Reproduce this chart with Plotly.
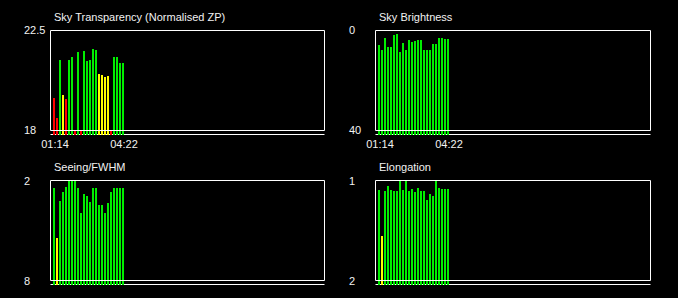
import plotly.graph_objects as go

# ---------------- data ----------------
times = ["01:14", "01:22", "01:30", "01:39", "01:47", "01:55", "02:03", "02:12",
         "02:20", "02:28", "02:36", "02:44", "02:53", "03:01", "03:09", "03:17",
         "03:26", "03:34", "03:42", "03:50", "03:58", "04:06", "04:14", "04:22"]

transparency = [19.46, 18.56, 21.17, 19.60, 19.42, 21.17, 21.31, 18.0,
                21.53, 18.0, 21.58, 21.13, 21.17, 21.67, 21.62, 20.54,
                20.50, 20.41, 20.45, 18.0, 21.31, 21.31, 21.04, 21.04]
transparency_colors = ["r", "r", "g", "y", "r", "g", "g", "r",
                       "g", "r", "g", "g", "g", "g", "g", "y",
                       "y", "y", "y", "r", "g", "g", "g", "g"]

sky_brightness = [5.8, 7.8, 3.0, 6.6, 6.6, 1.8, 1.4, 8.6,
                  5.0, 7.8, 3.8, 4.6, 4.2, 3.8, 3.8, 7.8,
                  7.8, 7.8, 5.4, 5.4, 3.0, 3.0, 3.4, 3.4]
sky_brightness_colors = ["g"] * 24

seeing = [2.45, 5.45, 3.23, 2.69, 2.39, 1.97, 1.97, 1.97,
          2.45, 3.95, 2.81, 2.93, 3.29, 2.45, 2.45, 3.47,
          3.47, 3.95, 3.35, 2.69, 2.45, 2.45, 2.45, 2.45]
seeing_colors = ["g", "y"] + ["g"] * 22

elongation = [1.09, 1.55, 1.10, 1.05, 1.09, 1.10, 1.10, 1.0,
              1.09, 1.0, 1.10, 1.08, 1.11, 1.07, 1.10, 1.10,
              1.19, 1.13, 1.15, 1.0, 1.07, 1.08, 1.08, 1.08]
elongation_colors = ["g", "y"] + ["g"] * 22

titles = ["Sky Transparency (Normalised ZP)", "Sky Brightness", "Seeing/FWHM", "Elongation"]
y_top_labels = ["22.5", "0", "2", "1"]
y_bottom_labels = ["18", "40", "8", "2"]
y_top_values = [22.5, 0, 2, 1]
y_bottom_values = [18, 40, 8, 2]

# ---------------- styling / geometry ----------------
W, H = 678, 298
COLORS = {"g": "#00ee00", "y": "#ffff00", "r": "#ff0000"}
FONT = "Liberation Sans, Arial, sans-serif"
TXT = "#f2f2f2"

geom = [
    dict(box=(50.5, 324.5, 30.5, 130.5), base=134.5, label_x=22, title_y=17),
    dict(box=(375.5, 650.5, 30.5, 130.5), base=134.5, label_x=347, title_y=17),
    dict(box=(50.5, 324.5, 180.5, 280.5), base=284.5, label_x=22, title_y=167),
    dict(box=(375.5, 650.5, 180.5, 280.5), base=284.5, label_x=347, title_y=167),
]
series = [transparency, sky_brightness, seeing, elongation]
series_colors = [transparency_colors, sky_brightness_colors, seeing_colors, elongation_colors]

fig = go.Figure()
shapes = []
annotations = []
layout_axes = {}

for i in range(4):
    g = geom[i]
    bl, br, bt, bb = g["box"]
    vt, vb = y_top_values[i], y_bottom_values[i]

    def val(p, bt=bt, bb=bb, vt=vt, vb=vb):
        return vt + (p - bt) * (vb - vt) / (bb - bt)

    area_l, area_r = bl - 1.5, br + 1.5
    area_t, area_b = bt - 2.5, g["base"] + 1.5
    c0 = bl + 3.5
    step = 3.0

    base_val = val(g["base"] + 0.5)
    xa = "x" if i == 0 else f"x{i+1}"
    ya = "y" if i == 0 else f"y{i+1}"

    fig.add_trace(go.Bar(
        x=times,
        y=[v - base_val for v in series[i]],
        base=base_val,
        width=2 / 3,
        marker=dict(color=[COLORS[c] for c in series_colors[i]], line=dict(width=0)),
        xaxis=xa, yaxis=ya, showlegend=False, hoverinfo="skip",
    ))

    xkey = "xaxis" if i == 0 else f"xaxis{i+1}"
    ykey = "yaxis" if i == 0 else f"yaxis{i+1}"
    layout_axes[xkey] = dict(
        domain=[area_l / W, area_r / W],
        anchor=ya, type="category", automargin=False,
        range=[(area_l - c0) / step, (area_r - c0) / step],
        showgrid=False, zeroline=False, showline=False, ticks="",
        tickvals=[times[0], times[-1]] if i < 2 else [],
        ticktext=[times[0], times[-1]] if i < 2 else [],
        showticklabels=(i < 2),
        ticklabelshift=1,
        tickfont=dict(family=FONT, size=11, color=TXT),
        fixedrange=True,
    )
    layout_axes[ykey] = dict(
        domain=[1 - area_b / H, 1 - area_t / H],
        anchor=xa, automargin=False,
        range=[val(area_b), val(area_t)],
        showgrid=False, zeroline=False, showline=False, ticks="",
        showticklabels=False, fixedrange=True,
    )

    # frame box
    shapes.append(dict(type="rect", xref="paper", yref="paper",
                       x0=bl / W, x1=br / W, y0=1 - bb / H, y1=1 - bt / H,
                       line=dict(color="white", width=1), fillcolor="rgba(0,0,0,0)",
                       layer="above"))
    # baseline under the frame
    shapes.append(dict(type="line", xref="paper", yref="paper",
                       x0=bl / W, x1=br / W, y0=1 - g["base"] / H, y1=1 - g["base"] / H,
                       line=dict(color="white", width=1), layer="below"))

    # panel title
    annotations.append(dict(text=titles[i], xref="paper", yref="paper",
                            x=(bl + 1.8) / W, y=1 - g["title_y"] / H,
                            xanchor="left", yanchor="middle", showarrow=False,
                            font=dict(family=FONT, size=11, color=TXT)))
    # y-range labels (left aligned)
    annotations.append(dict(text=y_top_labels[i], xref="paper", yref="paper",
                            x=g["label_x"] / W, y=1 - bt / H,
                            xanchor="left", yanchor="middle", showarrow=False,
                            font=dict(family=FONT, size=11, color=TXT)))
    annotations.append(dict(text=y_bottom_labels[i], xref="paper", yref="paper",
                            x=g["label_x"] / W, y=1 - bb / H,
                            xanchor="left", yanchor="middle", showarrow=False,
                            font=dict(family=FONT, size=11, color=TXT)))

fig.update_layout(
    width=W, height=H,
    margin=dict(l=0, r=0, t=0, b=0, pad=0, autoexpand=False),
    paper_bgcolor="black", plot_bgcolor="black",
    bargap=0, showlegend=False,
    shapes=shapes, annotations=annotations,
    **layout_axes,
)

fig.write_html("out.html", config={"displayModeBar": False})
